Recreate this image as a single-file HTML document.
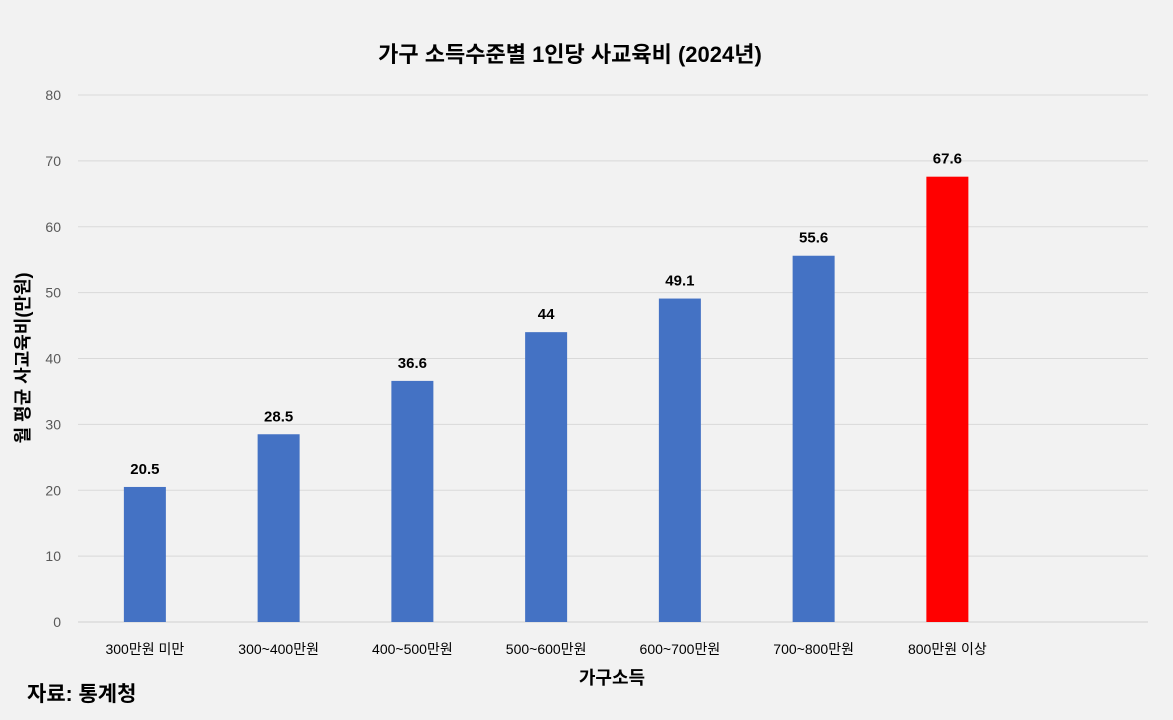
<!DOCTYPE html>
<html><head><meta charset="utf-8"><style>
body{margin:0;background:#f2f2f2;}
svg{display:block;font-family:"Liberation Sans","Noto Sans CJK KR",sans-serif;}
</style></head><body>
<svg id="c" width="1173" height="720">
<rect width="1173" height="720" fill="#f2f2f2"/>
<text x="570" y="62" text-anchor="middle" font-size="22" font-weight="bold" fill="#000">가구 소득수준별 1인당 사교육비 (2024년)</text>
<text transform="translate(29,358) rotate(-90)" text-anchor="middle" font-size="18" font-weight="bold" fill="#000">월 평균 사교육비(만원)</text>
<text x="612" y="684" text-anchor="middle" font-size="18" font-weight="bold" fill="#000">가구소득</text>
<text x="27" y="701" font-size="21" font-weight="bold" fill="#000">자료: 통계청</text>
<g id="grid"></g><g id="bars"></g>
</svg>
<script>
const categories=["300만원 미만","300~400만원","400~500만원","500~600만원","600~700만원","700~800만원","800만원 이상"];
const values=[20.5,28.5,36.6,44,49.1,55.6,67.6];
const valueLabels=["20.5","28.5","36.6","44","49.1","55.6","67.6"];
const yTicks=[0,10,20,30,40,50,60,70,80];
const NS="http://www.w3.org/2000/svg";
const L=78,R=1148,T=95,B=622,yMax=80,slots=8;
const y=v=>B-(v/yMax)*(B-T);
const band=(R-L)/slots;
const xc=i=>L+band*(i+0.5);
const grid=document.getElementById('grid'),bars=document.getElementById('bars');
function mk(tag,attrs,parent,txt){const e=document.createElementNS(NS,tag);for(const k in attrs)e.setAttribute(k,attrs[k]);if(txt!==undefined)e.textContent=txt;parent.appendChild(e);return e;}
yTicks.forEach(t=>{
  const ln=mk('line',{x1:L,x2:R,y1:y(t),y2:y(t),stroke:t===0?'#d0d0d0':'#d9d9d9','stroke-width':1},grid);
  
  
  const tx=mk('text',{x:61,y:y(t)+5,'text-anchor':'end','font-size':14,fill:'#595959'},grid,String(t));
  
  
});
values.forEach((v,i)=>{
  const w=42;
  const r=mk('rect',{x:xc(i)-w/2,y:y(v),width:w,height:B-y(v),fill:i===values.length-1?'#ff0000':'#4472c4'},bars);
  
  
  const lb=mk('text',{x:xc(i),y:y(v)-13,'text-anchor':'middle','font-size':15,'font-weight':'bold',fill:'#000'},bars,valueLabels[i]);
  
  
  const c=mk('text',{x:xc(i),y:654,'text-anchor':'middle','font-size':14,fill:'#000'},bars,categories[i]);
  
  
});
</script>
</body></html>
